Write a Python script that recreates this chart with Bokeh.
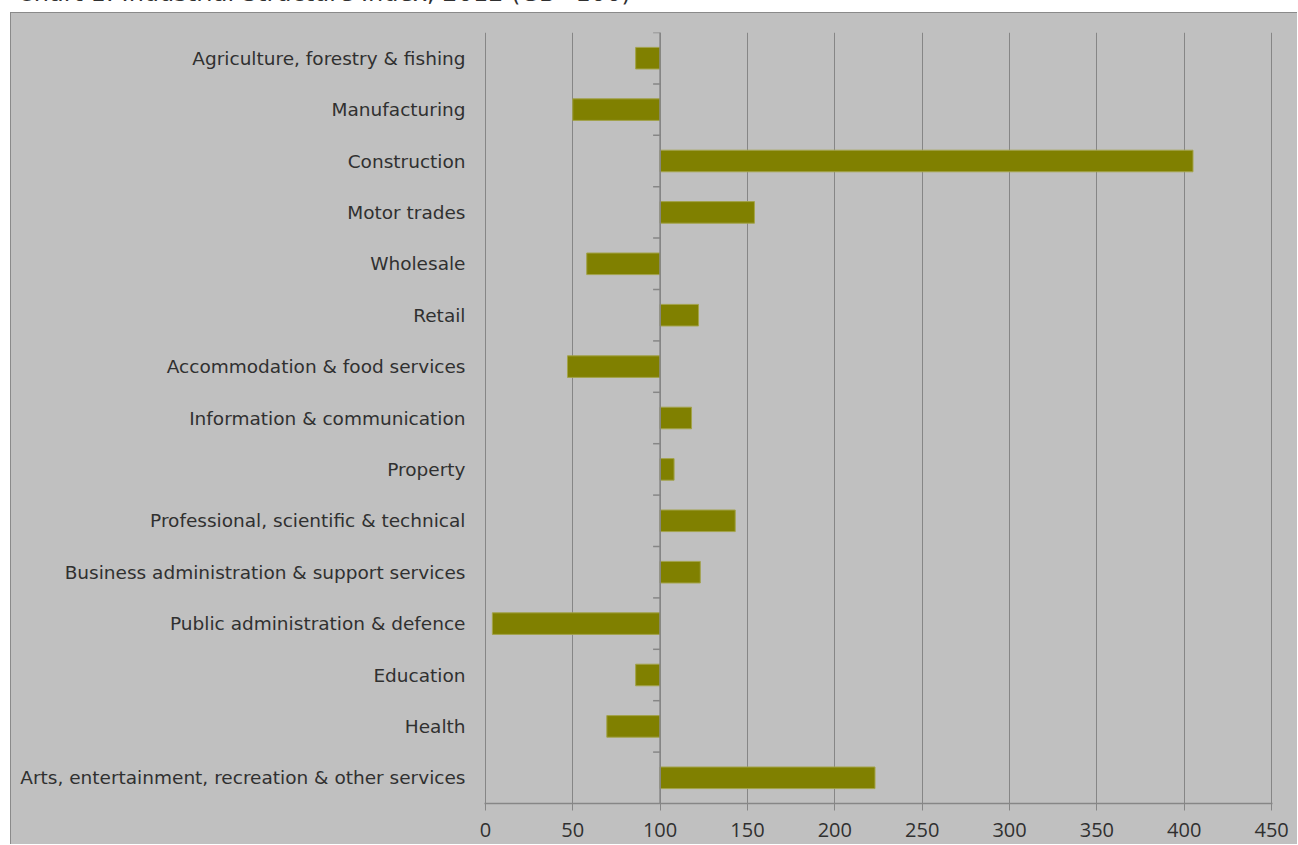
from bokeh.plotting import figure
from bokeh.models import Range1d, FixedTicker, Div, Spacer, Column, Row
from bokeh.embed import file_html
from bokeh.resources import INLINE

title_text = "Chart 1: Industrial Structure Index, 2012 (GB=100)"
categories = [
    "Agriculture, forestry & fishing",
    "Manufacturing",
    "Construction",
    "Motor trades",
    "Wholesale",
    "Retail",
    "Accommodation & food services",
    "Information & communication",
    "Property",
    "Professional, scientific & technical",
    "Business administration & support services",
    "Public administration & defence",
    "Education",
    "Health",
    "Arts, entertainment, recreation & other services",
]
values = [86, 50, 405, 154, 58, 122, 47, 118, 108, 143, 123, 4, 86, 69.5, 223]
base = 100
x_ticks = [0, 50, 100, 150, 200, 250, 300, 350, 400, 450]

n = len(categories)
idx = list(range(n))

FONT = "DejaVu Sans"
TICK_FONT = "Open Sans"
GRAY_BG = "#C0C0C0"
LINE = "#868686"
TEXT = "#303030"

p = figure(width=1287, height=832, output_backend="svg", toolbar_location=None,
           x_range=Range1d(-0.5, 450.5), y_range=Range1d(n - 0.5, -0.5),
           min_border_left=473, min_border_right=26, min_border_top=19, min_border_bottom=42,
           background_fill_color=None, border_fill_color=None,
           outline_line_color=None,
           styles={"background-color": GRAY_BG,
                   "border-left": "1px solid #8a8a8a", "border-top": "1px solid #8a8a8a"})

# vertical gridlines
p.xgrid.ticker = FixedTicker(ticks=x_ticks)
p.xgrid.grid_line_color = LINE
p.xgrid.grid_line_width = 1
p.ygrid.grid_line_color = None

# bars from the base value
p.hbar(y=idx, left=base, right=values, height=0.42,
       fill_color="#808000", line_color="#A3A34A", line_width=1)

# category axis crossing at base
p.segment(x0=[base], x1=[base], y0=[-0.5], y1=[n - 0.5], line_color=LINE, line_width=1.6)
bounds = [i - 0.5 for i in range(n)]
p.segment(x0=[base - 4] * len(bounds), x1=[base] * len(bounds), y0=bounds, y1=bounds,
          line_color=LINE, line_width=1.5)

# x axis
xa = p.xaxis[0]
xa.ticker = FixedTicker(ticks=x_ticks)
xa.axis_line_color = LINE
xa.axis_line_width = 1.5
xa.major_tick_line_color = LINE
xa.major_tick_out = 7
xa.major_tick_in = 0
xa.minor_tick_line_color = None
xa.major_label_text_font = TICK_FONT
xa.major_label_text_font_size = "20px"
xa.major_label_text_color = TEXT
xa.major_label_standoff = 12

# y axis (category labels)
ya = p.yaxis[0]
ya.ticker = FixedTicker(ticks=idx)
ya.major_label_overrides = {i: c for i, c in enumerate(categories)}
ya.axis_line_color = None
ya.major_tick_line_color = None
ya.minor_tick_line_color = None
ya.major_label_text_font = FONT
ya.major_label_text_font_size = "18.5px"
ya.major_label_text_color = TEXT
ya.major_label_standoff = 13

title = Div(text=f'<div style="position:absolute; left:17px; top:-20px; margin:0; white-space:nowrap; line-height:26px; font-family:\'DejaVu Sans\'; font-size:24px; color:{TEXT};">{title_text}</div>',
            width=1298, height=12,
            styles={"overflow": "hidden", "height": "12px", "position": "relative", "margin": "0", "padding": "0"})

layout = Column(children=[title, Row(children=[Spacer(width=10, height=832), p], spacing=0)], spacing=0)

open("out.html", "w").write(file_html(layout, INLINE))
